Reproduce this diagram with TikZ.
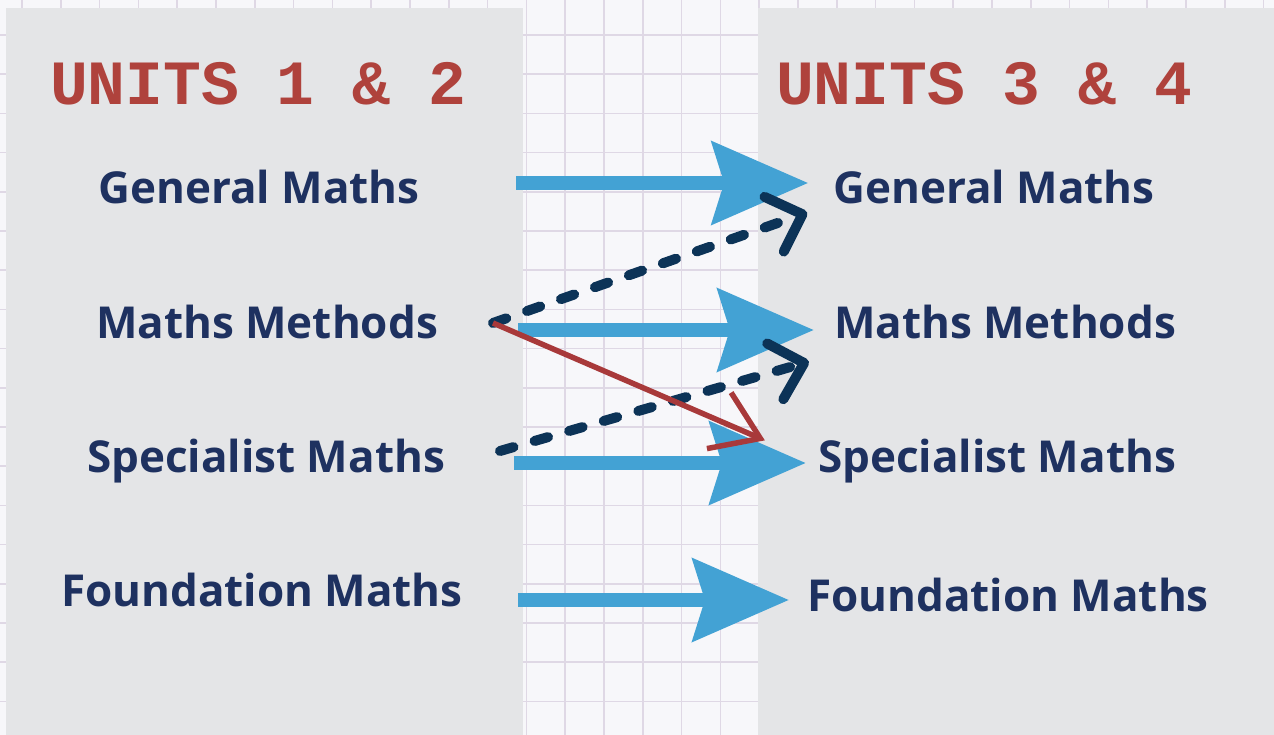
\documentclass[tikz,border=0pt]{standalone}
\usepackage{fontspec}
\setmainfont{Open Sans}
\newfontfamily\unitfont{Liberation Mono}
\usetikzlibrary{arrows.meta,positioning,calc}

\definecolor{paper}{HTML}{F7F7FA}
\definecolor{gridline}{HTML}{DFD8E5}
\definecolor{panelgrey}{HTML}{E4E5E7}
\definecolor{unitred}{HTML}{AF423C}
\definecolor{navy}{HTML}{1E3160}
\definecolor{flowblue}{HTML}{43A2D4}
\definecolor{dashnavy}{HTML}{0C3357}
\definecolor{arrowred}{HTML}{A8393A}

\begin{document}
\begin{tikzpicture}[
    x=1pt, y=-1pt,
    panel/.style={fill=panelgrey},
    unit/.style={font=\unitfont\bfseries\fontsize{63}{63}\selectfont, text=unitred, inner sep=0pt, anchor=base},
    course/.style={font=\bfseries\fontsize{44}{44}\selectfont, text=navy, inner sep=0pt, anchor=base},
    flow/.style={line width=14pt, draw=flowblue, -{Stealth[length=96pt, width=82pt, inset=12pt]}},
    alt/.style={line width=10pt, draw=dashnavy, line cap=round, dash pattern=on 14pt off 22pt,
        -{Straight Barb[length=30pt, width=58pt, round]}},
    swap/.style={line width=5.5pt, draw=arrowred, -{Straight Barb[length=45pt, width=61pt]}},
]
\useasboundingbox (0,0) rectangle (1274,735);

% squared paper behind the two columns
\fill[paper] (0,0) rectangle (1274,735);
\foreach \i in {0,...,32}
    \draw[gridline, line width=1.5pt] ({22+38.8*\i},0) -- ({22+38.8*\i},735);
\foreach \j in {0,...,18}
    \draw[gridline, line width=1.5pt] (0,{-4.2+39.2*\j}) -- (1274,{-4.2+39.2*\j});

\fill[panel] (6,8) rectangle (523,735);
\fill[panel] (758,8) rectangle (1274,735);

% headings
\node[unit] (u12) at (258,105) {UNITS 1 \& 2};
\node[unit] (u34) at (984,105) {UNITS 3 \& 4};

% subjects, units 1 & 2
\node[course] (lg) at (259,204) {General Maths};
\node[course] (lm) at (267,338) {Maths Methods};
\node[course] (ls) at (266,472) {Specialist Maths};
\node[course] (lf) at (262,606) {Foundation Maths};

% subjects, units 3 & 4
\node[course] (rg) at (994,204) {General Maths};
\node[course] (rm) at (1005,338) {Maths Methods};
\node[course] (rs) at (997,472) {Specialist Maths};
\node[course] (rf) at (1008,611) {Foundation Maths};

% usual pathways
\coordinate (s1) at (516,183);
\coordinate (s2) at (518,330);
\coordinate (s3) at (514,463);
\coordinate (s4) at (518,600);
\draw[flow, shorten >=25pt] (s1) -- (s1 -| rg.west);
\draw[flow, shorten >=20pt] (s2) -- (s2 -| rm.west);
\draw[flow, shorten >=12pt] (s3) -- (s3 -| rs.west);
\draw[flow, shorten >=18pt] (s4) -- (s4 -| rf.west);

% dropping down a level
\coordinate (dm) at (493,323);
\coordinate (ds) at (500,451);
\draw[alt] (dm) -- ([xshift=-26pt, yshift=-8pt]rg.south west);
\draw[alt] (ds) -- ([xshift=-25pt, yshift=-23pt]rm.south west);

% methods into specialist
\draw[swap] (dm) -- ([xshift=-53pt, yshift=-2pt]rs.north west);

\end{tikzpicture}
\end{document}
